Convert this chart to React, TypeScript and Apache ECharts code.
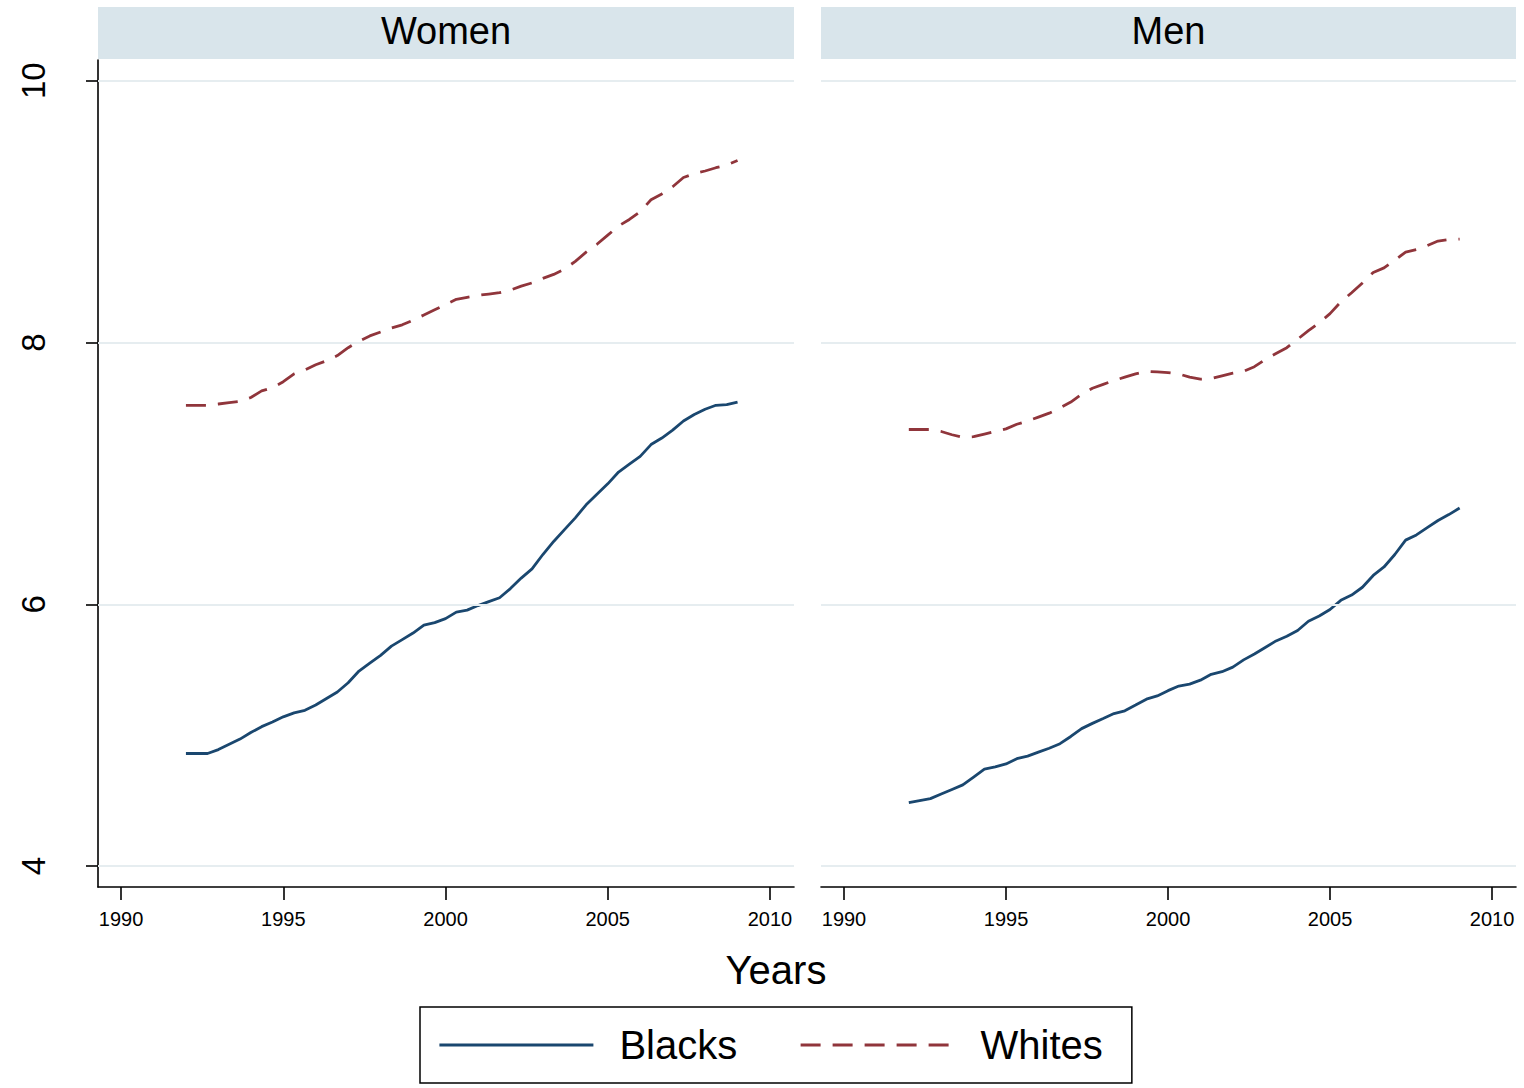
import React, { useEffect, useRef } from "react";
import * as echarts from "echarts";

// Series sampled every four months, 1992 to 2009
const startYear = 1992;
const stepsPerYear = 3;

const panels = ["Women", "Men"];
const seriesNames = ["Blacks", "Whites"];

const womenBlacks = [
  4.86, 4.86, 4.86, 4.89, 4.93, 4.97, 5.02, 5.065, 5.1, 5.14,
  5.17, 5.19, 5.23, 5.28, 5.33, 5.4, 5.49, 5.55, 5.61, 5.68,
  5.73, 5.78, 5.84, 5.86, 5.89, 5.94, 5.955, 5.99, 6.02, 6.05,
  6.12, 6.2, 6.27, 6.38, 6.48, 6.57, 6.66, 6.76, 6.84, 6.92,
  7.01, 7.07, 7.13, 7.22, 7.27, 7.33, 7.4, 7.45, 7.49, 7.52,
  7.525, 7.545,
];

const womenWhites = [
  7.52, 7.52, 7.52, 7.53, 7.54, 7.55, 7.58, 7.63, 7.655, 7.7,
  7.76, 7.79, 7.83, 7.86, 7.9, 7.96, 8.01, 8.05, 8.08, 8.11,
  8.135, 8.17, 8.21, 8.25, 8.29, 8.33, 8.345, 8.36, 8.37, 8.38,
  8.4, 8.43, 8.455, 8.49, 8.52, 8.56, 8.62, 8.69, 8.75, 8.82,
  8.89, 8.94, 9.0, 9.09, 9.135, 9.19, 9.26, 9.29, 9.31, 9.335,
  9.355, 9.39,
];

const menBlacks = [
  4.485, 4.5, 4.515, 4.55, 4.585, 4.62, 4.68, 4.74, 4.757, 4.78,
  4.82, 4.84, 4.87, 4.9, 4.935, 4.99, 5.05, 5.09, 5.127, 5.165,
  5.186, 5.23, 5.275, 5.3, 5.34, 5.375, 5.39, 5.42, 5.465, 5.485,
  5.52, 5.575, 5.62, 5.67, 5.72, 5.755, 5.8, 5.87, 5.91, 5.96,
  6.03, 6.07, 6.13, 6.22, 6.285, 6.38, 6.49, 6.53, 6.585, 6.64,
  6.685, 6.735,
];

const menWhites = [
  7.335, 7.335, 7.335, 7.32, 7.295, 7.275, 7.28, 7.3, 7.32, 7.34,
  7.375, 7.4, 7.43, 7.46, 7.5, 7.545, 7.605, 7.65, 7.68, 7.71,
  7.735, 7.76, 7.78, 7.775, 7.77, 7.76, 7.735, 7.72, 7.725, 7.745,
  7.765, 7.78, 7.815, 7.87, 7.915, 7.96, 8.025, 8.09, 8.15, 8.22,
  8.31, 8.38, 8.455, 8.535, 8.57, 8.63, 8.69, 8.71, 8.74, 8.775,
  8.787, 8.79,
];

const xTicks = [1990, 1995, 2000, 2005, 2010];
const yTicks = [4, 6, 8, 10];
const xTitle = "Years";

// Axis extents leave a margin around the tick range, as the plot region does
const xMin = 1989.29;
const xMax = 2010.74;
const yMin = 3.84;
const yMax = 10.158;

const FONT = "'Liberation Sans', Arial, Helvetica, sans-serif";
const BLUE = "#1a476f";
const RED = "#90353b";
const STRIP = "#d9e5eb";
const GRIDLINE = "#e6edf0";
const LINE_W = 2.8;

const toPairs = (vals: number[]) =>
  vals.map((v, i) => [startYear + i / stepsPerYear, v]);

const panelData = [
  [womenBlacks, womenWhites],
  [menBlacks, menWhites],
];

const gridBoxes = [
  { left: 98, top: 60, width: 696, height: 827 },
  { left: 821, top: 60, width: 695, height: 827 },
];

export default function App() {
  const ref = useRef<HTMLDivElement>(null);

  useEffect(() => {
    if (!ref.current) return;
    const chart = echarts.init(ref.current, undefined, { renderer: "svg" });

    const series: any[] = [];
    panelData.forEach((pair, i) => {
      // horizontal reference lines at the y ticks
      series.push({
        type: "line",
        xAxisIndex: i,
        yAxisIndex: i,
        data: [],
        z: 1,
        silent: true,
        markLine: {
          silent: true,
          symbol: "none",
          label: { show: false },
          lineStyle: { color: GRIDLINE, width: 2, type: "solid" },
          data: yTicks.map((v) => ({ yAxis: v })),
        },
      });
      series.push({
        name: seriesNames[0],
        type: "line",
        xAxisIndex: i,
        yAxisIndex: i,
        data: toPairs(pair[0]),
        symbol: "none",
        showSymbol: false,
        z: 3,
        lineStyle: { color: BLUE, width: LINE_W, type: "solid" },
        itemStyle: { color: BLUE },
      });
      series.push({
        name: seriesNames[1],
        type: "line",
        xAxisIndex: i,
        yAxisIndex: i,
        data: toPairs(pair[1]),
        symbol: "none",
        showSymbol: false,
        z: 3,
        lineStyle: { color: RED, width: LINE_W, type: [20, 12] },
        itemStyle: { color: RED },
      });
    });

    const graphics: any[] = [];
    panels.forEach((name, i) => {
      const g = gridBoxes[i];
      graphics.push({
        type: "rect",
        shape: { x: g.left, y: 7, width: g.width, height: 52 },
        style: { fill: STRIP },
        silent: true,
      });
      graphics.push({
        type: "text",
        x: g.left + g.width / 2,
        y: 31,
        style: {
          text: name,
          font: `38px ${FONT}`,
          fill: "#000",
          textAlign: "center",
          textVerticalAlign: "middle",
        },
        silent: true,
      });
    });
    graphics.push({
      type: "text",
      x: 776,
      y: 970,
      style: {
        text: xTitle,
        font: `40px ${FONT}`,
        fill: "#000",
        textAlign: "center",
        textVerticalAlign: "middle",
      },
      silent: true,
    });

    chart.setOption({
      animation: false,
      backgroundColor: "#fff",
      textStyle: { fontFamily: FONT },
      grid: gridBoxes.map((g) => ({ ...g, containLabel: false })),
      xAxis: gridBoxes.map((_, i) => ({
        type: "value",
        gridIndex: i,
        min: xMin,
        max: xMax,
        axisLine: { show: true, onZero: false, lineStyle: { color: "#000", width: 1.6 } },
        axisTick: {
          show: true,
          customValues: xTicks,
          length: 13,
          lineStyle: { color: "#000", width: 1.6 },
        },
        axisLabel: {
          show: true,
          customValues: xTicks,
          formatter: (v: number) => String(Math.round(v)),
          fontSize: 20,
          margin: 22,
          color: "#000",
          fontFamily: FONT,
        },
        splitLine: { show: false },
      })),
      yAxis: gridBoxes.map((_, i) => ({
        type: "value",
        gridIndex: i,
        min: yMin,
        max: yMax,
        axisLine: { show: i === 0, onZero: false, lineStyle: { color: "#000", width: 1.6 } },
        axisTick: {
          show: i === 0,
          customValues: yTicks,
          length: 12,
          lineStyle: { color: "#000", width: 1.6 },
        },
        axisLabel: {
          show: i === 0,
          customValues: yTicks,
          formatter: (v: number) => String(Math.round(v)),
          rotate: 90,
          fontSize: 33,
          margin: 48,
          color: "#000",
          fontFamily: FONT,
        },
        splitLine: { show: false },
      })),
      legend: {
        data: seriesNames,
        left: 420,
        top: 1007,
        orient: "horizontal",
        itemWidth: 154,
        itemHeight: 20,
        itemGap: 62,
        padding: [18, 29, 18, 18],
        borderColor: "#000",
        borderWidth: 1.5,
        selectedMode: false,
        itemStyle: { opacity: 0 },
        lineStyle: { width: LINE_W },
        textStyle: {
          fontSize: 40,
          color: "#000",
          fontFamily: FONT,
          padding: [0, 0, 0, 21],
        },
      },
      graphic: graphics,
      series,
    });

    return () => chart.dispose();
  }, []);

  return (
    <div
      ref={ref}
      style={{ position: "absolute", left: 0, top: 0, width: 1524, height: 1088 }}
    />
  );
}
